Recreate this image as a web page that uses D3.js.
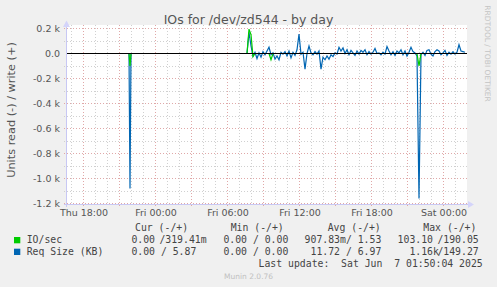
<!DOCTYPE html>
<html>
<head>
<meta charset="utf-8">
<script src="https://cdn.jsdelivr.net/npm/d3@7"></script>
<style>
html,body{margin:0;padding:0;background:#f0f0f0;}
svg{display:block;}
</style>
</head>
<body>
<svg id="chart" width="497" height="287"></svg>
<script>
// ---------- data ----------
const title = "IOs for /dev/zd544 - by day";
const yAxisTitle = "Units read (-) / write (+)";
const yTicks = [200, 0, -200, -400, -600, -800, -1000, -1200];
const yTickLabels = ["0.2 k", "0.0", "-0.2 k", "-0.4 k", "-0.6 k", "-0.8 k", "-1.0 k", "-1.2 k"];
const xTickLabels = ["Thu 18:00", "Fri 00:00", "Fri 06:00", "Fri 12:00", "Fri 18:00", "Sat 00:00"];
const xTickTimes = [new Date(2025,5,5,18,0), new Date(2025,5,6,0,0), new Date(2025,5,6,6,0), new Date(2025,5,6,12,0), new Date(2025,5,6,18,0), new Date(2025,5,7,0,0)];
const timeStart = new Date(2025,5,5,16,40);
const timeEnd = new Date(2025,5,7,2,0);

// early isolated sample burst (5-minute steps)
const burstStart = new Date(2025,5,5,21,50);
const burstStepMin = 5;
const burstReqSize = [0, -1080, 0];
const burstIOs = [0, -100, 0];

// active period (10-minute steps)
const activeStart = new Date(2025,5,6,7,40);
const activeStepMin = 10;
const reqSize = [0, 170, 60, -20, 10, -40, 5, -30, 15, -10,
  20, 50, -10, 5, -45, -20, -50, 10, -5, 15,
  -20, 20, -35, 10, -15, 30, 155, -5, 10, -125,
  0, 60, 5, -10, 15, -5, 20, -125, -30, -50,
  -20, -45, -10, -25, 5, -5, 50, 20, 45, 0,
  30, -10, 25, 5, -15, 20, -5, 25, 10, 30,
  -10, 15, -5, 10, 40, 0, 5, -10, 10, -5,
  55, 20, -10, 15, -15, 20, 5, 30, -10, 20,
  -20, 10, 50, 15, 5, -20, -1160, -10, 10, -15,
  25, 30, -5, -20, 15, 30, 20, -10, 5, 25,
  -15, 10, -5, 15, -5, 10, 70, 20, 15, 10];
const ioRate = [0, 195, 150, -25, 0, 0, 0, 0, 0, 0,
  0, 0, -50, 0, 0, 0, 0, 0, 0, 0,
  0, 0, 0, 0, 0, 0, 0, 0, 0, 0,
  0, 0, 0, 0, 0, 0, 0, 0, 0, 0,
  0, 0, 0, 0, 0, 0, 0, 0, 0, 0,
  0, 0, 0, 0, 0, 0, 0, 0, 0, 0,
  0, 0, 0, 0, 0, 0, 0, 0, 0, 0,
  0, 0, 0, 0, 0, 0, 0, 0, 0, 0,
  0, 0, 0, 0, 0, 0, -100, 0, 0, 0,
  0, 0, 0, 0, 0, 0, 0, 0, 0, 0,
  0, 0, 0, 0, 0, 0, 0, 0, 0, 0];

const seriesNames = ["IO/sec", "Req Size (KB)"];
const seriesColors = ["#00cc00", "#0066b3"];
const legendHeaders = ["Cur (-/+)", "Min (-/+)", "Avg (-/+)", "Max (-/+)"];
// [left value, left suffix, right value, right suffix]
const legendIO = [["0.00","","319.41","m"],["0.00","","0.00",""],["907.83","m","1.53",""],["103.10","","190.05",""]];
const legendReq = [["0.00","","5.87",""],["0.00","","0.00",""],["11.72","","6.97",""],["1.16","k","149.27",""]];
const lastUpdate = "Last update:  Sat Jun  7 01:50:04 2025";
const footer = "Munin 2.0.76";
const sideText = "RRDTOOL / TOBI OETIKER";

// ---------- layout ----------
const svg = d3.select("#chart");
const L = 67, R = 467, T = 25, B = 204;
const x = d3.scaleTime().domain([timeStart, timeEnd]).range([L, R]);
const y = d3.scaleLinear().domain([-1200, 200]).range([203.5, 28.5]);

svg.append("rect").attr("width",497).attr("height",287).attr("fill","#f0f0f0");
svg.append("rect").attr("x",L).attr("y",T).attr("width",R-L).attr("height",B-T).attr("fill","#ffffff");

const minorColor = "#d0d0d0", majorColor = "#e0a8a8";
// horizontal grid
const yMinor = d3.range(-1100, 200, 200);
svg.append("g").selectAll("line").data(yMinor).join("line")
  .attr("x1",L-3).attr("x2",R).attr("y1",d=>Math.round(y(d))+0.5).attr("y2",d=>Math.round(y(d))+0.5)
  .attr("stroke",minorColor).attr("stroke-dasharray","1,2");
svg.append("g").selectAll("line").data(yTicks.filter(d=>d!==0)).join("line")
  .attr("x1",L-3).attr("x2",R).attr("y1",d=>Math.floor(y(d))+0.5).attr("y2",d=>Math.floor(y(d))+0.5)
  .attr("stroke",majorColor).attr("stroke-dasharray","1,2");

// vertical grid
const hours = d3.timeHour.range(d3.timeHour.ceil(timeStart), timeEnd);
const minorHours = hours.filter(h=>h.getHours()%3!==0);
const majorHours = hours.filter(h=>h.getHours()%3===0);
svg.append("g").selectAll("line").data(minorHours).join("line")
  .attr("x1",d=>Math.round(x(d))+0.5).attr("x2",d=>Math.round(x(d))+0.5)
  .attr("y1",T).attr("y2",B+1).attr("stroke",minorColor).attr("stroke-dasharray","1,2");
svg.append("g").selectAll("line").data(majorHours).join("line")
  .attr("x1",d=>Math.round(x(d))+0.5).attr("x2",d=>Math.round(x(d))+0.5)
  .attr("y1",T).attr("y2",B+3).attr("stroke",majorColor).attr("stroke-dasharray","1,2");

// axes lines + arrows
const axisColor = "#c8c8f4";
svg.append("line").attr("x1",L-0.5).attr("x2",L-0.5).attr("y1",B+3).attr("y2",24).attr("stroke",axisColor);
svg.append("path").attr("d",`M${L-4},27 L${L+3},27 L${L-0.5},20.5 Z`).attr("fill","#d4d4fa");
svg.append("line").attr("x1",L-3).attr("x2",R+2).attr("y1",B+0.5).attr("y2",B+0.5).attr("stroke",axisColor);
svg.append("path").attr("d",`M${R+1},${B-3} L${R+1},${B+4} L${R+7},${B+0.5} Z`).attr("fill","#d4d4fa");

// y tick labels
const fontSans = "'DejaVu Sans', Verdana, sans-serif";
svg.append("g").selectAll("text").data(yTicks).join("text")
  .attr("x",60).attr("y",d=>y(d)).attr("dy","0.35em").attr("text-anchor","end")
  .attr("font-family",fontSans).attr("font-size",9.5).attr("fill","#555")
  .text((d,i)=>yTickLabels[i]);
// x tick labels
svg.append("g").selectAll("text").data(xTickTimes).join("text")
  .attr("x",d=>x(d)+1).attr("y",215.5).attr("text-anchor","middle")
  .attr("font-family",fontSans).attr("font-size",9.5).attr("fill","#555")
  .text((d,i)=>xTickLabels[i]);

// data lines
const line = d3.line().x(d=>x(d.t)).y(d=>y(d.v));
function toPoints(start, stepMin, vals){
  return vals.map((v,i)=>({t:new Date(start.getTime()+i*stepMin*60000), v}));
}
const gData = svg.append("g");
gData.append("path").datum(toPoints(burstStart,burstStepMin,burstReqSize)).attr("d",line)
  .attr("fill","none").attr("stroke",seriesColors[1]).attr("stroke-width",1.2);
gData.append("path").datum(toPoints(activeStart,activeStepMin,reqSize)).attr("d",line)
  .attr("fill","none").attr("stroke",seriesColors[1]).attr("stroke-width",1.2);
gData.append("path").datum(toPoints(burstStart,burstStepMin,burstIOs)).attr("d",line)
  .attr("fill","none").attr("stroke",seriesColors[0]).attr("stroke-width",1.2);
gData.append("path").datum(toPoints(activeStart,activeStepMin,ioRate)).attr("d",line)
  .attr("fill","none").attr("stroke",seriesColors[0]).attr("stroke-width",1.2);

// zero line
svg.append("line").attr("x1",L).attr("x2",R).attr("y1",Math.floor(y(0))+0.5).attr("y2",Math.floor(y(0))+0.5)
  .attr("stroke","#000").attr("stroke-width",1.2);

// title
svg.append("text").attr("x",248.5).attr("y",24).attr("text-anchor","middle")
  .attr("font-family",fontSans).attr("font-size",12.5).attr("fill","#555").text(title);
// y axis title
svg.append("text").attr("transform","translate(14.5,110) rotate(-90)").attr("text-anchor","middle")
  .attr("font-family",fontSans).attr("font-size",11.3).attr("fill","#555").text(yAxisTitle);
// side text
svg.append("text").attr("transform","translate(485,53.5) rotate(90)").attr("text-anchor","middle")
  .attr("font-family",fontSans).attr("font-size",7.5).attr("fill","#c4c4c4").text(sideText);

// legend
const fontMono = "'DejaVu Sans Mono', monospace";
const fs = 9.8, cw = 5.9;
const legText = "#444";
const headerX = [135, 230.7, 327.7, 423.3];
const colP = [155, 247, 340, 433];
svg.append("g").selectAll("text").data(legendHeaders).join("text")
  .attr("x",(d,i)=>headerX[i]).attr("y",231).attr("font-family",fontMono).attr("font-size",fs)
  .attr("fill",legText).attr("xml:space","preserve").text(d=>d);
const rows = [legendIO, legendReq];
const rowY = [243.3, 255];
rows.forEach((row,ri)=>{
  svg.append("rect").attr("x",14).attr("y",rowY[ri]-6.3).attr("width",6.3).attr("height",6.3).attr("fill",seriesColors[ri]);
  svg.append("text").attr("x",26.7).attr("y",rowY[ri]).attr("font-family",fontMono).attr("font-size",fs)
    .attr("fill",legText).attr("xml:space","preserve").text(seriesNames[ri]);
  const g = svg.append("g").attr("font-family",fontMono).attr("font-size",fs).attr("fill",legText);
  row.forEach((c,ci)=>{
    const P = colP[ci];
    const t = g.append("text").attr("y",rowY[ri]);
    t.append("tspan").attr("x",P - c[0].length*cw).text(c[0]);
    if(c[1]) t.append("tspan").attr("x",P).text(c[1]);
    const wide = c[2].length > 5;           // 6-char values would run into the slash
    const slashX = wide ? P + cw - 1.5 : P + cw;
    t.append("tspan").attr("x",slashX).text("/");
    const rStart = wide ? slashX + cw : P + 7*cw - c[2].length*cw;
    t.append("tspan").attr("x",rStart).text(c[2]);
    if(c[3]) t.append("tspan").attr("x",rStart + c[2].length*cw).text(c[3]);
  });
});
svg.append("text").attr("x",482.7).attr("y",267).attr("text-anchor","end")
  .attr("font-family",fontMono).attr("font-size",fs).attr("fill",legText)
  .attr("xml:space","preserve").text(lastUpdate);
svg.append("text").attr("x",224).attr("y",279).attr("font-family",fontSans).attr("font-size",7.5)
  .attr("fill","#c0c0c0").text(footer);
</script>
</body>
</html>
